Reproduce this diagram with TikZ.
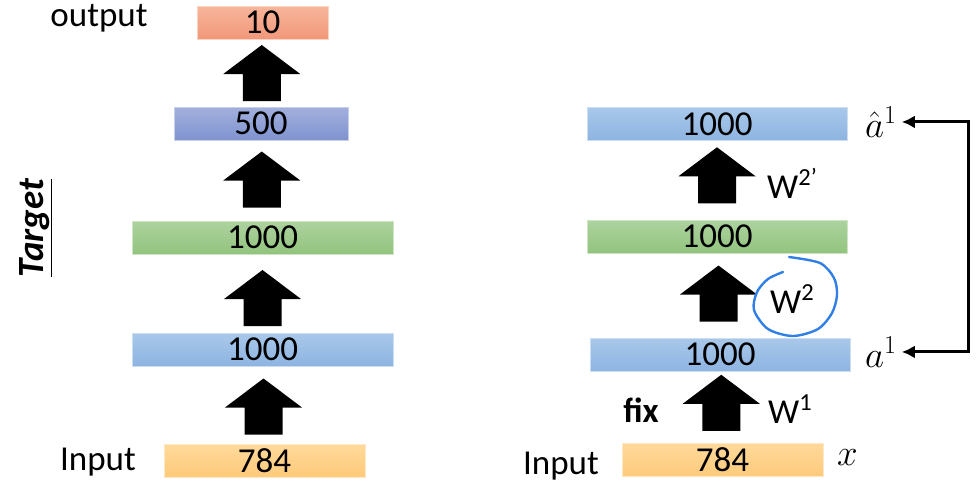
\documentclass[tikz,border=0pt]{standalone}
\usepackage{fix-cm}
\usepackage{fontspec}
\setmainfont{Carlito}
\usetikzlibrary{arrows.meta,positioning,calc}
\definecolor{redT}{HTML}{F7B69B}\definecolor{redB}{HTML}{F2977A}
\definecolor{purpleT}{HTML}{A2B0DD}\definecolor{purpleB}{HTML}{8093D0}
\definecolor{greenT}{HTML}{ADD29F}\definecolor{greenB}{HTML}{92C47E}
\definecolor{blueT}{HTML}{A9C8EA}\definecolor{blueB}{HTML}{8DB4E1}
\definecolor{yellowT}{HTML}{FFD99B}\definecolor{yellowB}{HTML}{FECA7A}
\definecolor{pen}{HTML}{2F7FE6}
\begin{document}
\begin{tikzpicture}[x=1pt,y=-1pt,>=Latex,
  layer/.style={top color=#1T,bottom color=#1B,draw=#1T!60!white,line width=.8pt,minimum height=33pt,inner sep=0pt,font=\fontsize{35}{40}\selectfont},
  lbl/.style={inner sep=0pt,font=\fontsize{35}{40}\selectfont},
  mth/.style={inner sep=0pt,anchor=base west,font=\fontsize{37}{40}\selectfont},
  fb/.style={line width=3pt,arrows={{Latex[length=13pt,width=13pt]}-{Latex[length=13pt,width=13pt]}}},
  fatarrow/.pic={\fill (-19,28) -- (-19,1) -- (-38.5,1) -- (0,-28) -- (38.5,1) -- (19,1) -- (19,28) -- cycle;}]
\useasboundingbox (0,0) rectangle (978,488);
% layers of both nets
\foreach \nm/\x/\y/\w/\c/\t in {outL/262.5/22.5/131/red/10,hidL/261/123.5/174/purple/500,grL/262.5/237.5/261/green/1000,blL/262.5/349.5/261/blue/1000,inL/264.5/460.5/201/yellow/784,ahR/717/124/260/blue/1000,grR/717/236.5/260/green/1000,aR/720/354.5/260/blue/1000,inR/722.5/460/201/yellow/784}
  \node[layer=\c,minimum width=\w pt] (\nm) at (\x,\y) {\t};
\foreach \lo/\up/\sh in {hidL/outL/0,grL/hidL/-1,blL/grL/4.5,inL/blL/1.5,grR/ahR/-5,aR/grR/-2,inR/aR/-4.5}
  \pic at ($(\lo.north)!0.5!(\up.south)+(0,\sh)$) {fatarrow};
% texts
\node[lbl,anchor=base] (outtxt) at (99,26) {output};
\node[lbl,anchor=base] (intxtL) at (98,470) {Input};
\node[lbl,anchor=base] (intxtR) at (561,474) {Input};
\node[lbl,font=\fontsize{37}{40}\selectfont\bfseries\itshape,rotate=90] (target) at (36,228) {\underline{Target}};
\node[lbl,font=\fontsize{35}{40}\selectfont\bfseries,anchor=base] (fix) at (641,422) {fix};
\node[lbl,anchor=base west] (w2p) at (767,198) {W\textsuperscript{2’}};
\node[lbl,anchor=base west] (w2) at (770,313) {W\textsuperscript{2}};
\node[lbl,anchor=base west] (w1) at (768,423) {W\textsuperscript{1}};
\node[mth] (ahat) at (865,137) {$\hat{a}^1$};
\node[mth] (a1) at (865,367) {$a^1$};
\node[mth] (xin) at (837,465) {$x$};
% feedback
\coordinate (turn) at (968,240);
\draw[fb] ([xshift=5pt]ahat.east) -| (turn) |- ([xshift=5pt]a1.east);
\draw[pen,line width=2.4pt,line cap=round] plot[smooth] coordinates {(789,257) (820,263) (834,278) (837,295) (832,313) (818,329) (793,336) (768,329) (754,310) (757,292) (768,279) (783,272)};
\end{tikzpicture}
\end{document}
